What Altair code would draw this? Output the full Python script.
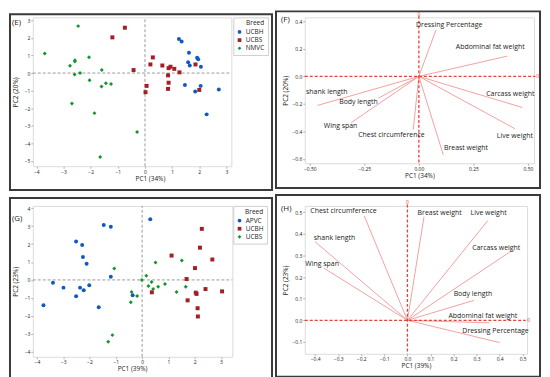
import altair as alt
import pandas as pd

FONT = "Open Sans"

# ---------------- Panel E: scores (PC1 34%, PC2 20%) ----------------
e_breeds = ["UCBH", "UCBS", "NMVC"]
e_ucbh_x = [1.25, 1.35, 1.62, 1.59, 1.65, 1.92, 1.96, 2.06, 1.47, 1.85, 2.05, 2.72, 2.27]
e_ucbh_y = [1.94, 1.79, 1.15, 0.62, 0.43, 0.87, 0.79, 0.36, -0.68, -1.05, -0.73, -0.94, -2.35]
e_ucbs_x = [-0.74, -1.2, -0.42, 0.29, 0.2, 0.64, 0.87, 0.94, 1.08, 1.27, 0.85, 0.87, 0.85, 0.06, 0.02, 1.86, 2.0]
e_ucbs_y = [2.58, 2.03, 0.17, 0.89, 0.49, 0.43, 0.28, 0.36, 0.24, 0.04, -0.13, -0.55, -0.9, -0.73, -1.09, 0.49, -0.96]
e_nmvc_x = [-2.46, -3.69, -2.58, -2.58, -2.76, -2.06, -1.59, -2.59, -2.39, -2.04, -1.6, -1.44, -1.25, -2.69, -1.86, -0.29, -1.65]
e_nmvc_y = [2.67, 1.11, 0.73, 0.66, 0.41, 0.9, 0.17, -0.08, 0.0, -0.41, -0.77, -0.58, -0.62, -1.73, -2.28, -3.35, -4.78]

# ---------------- Panel G: scores (PC1 39%, PC2 23%) ----------------
g_breeds = ["APVC", "UCBH", "UCBS"]
g_apvc_x = [0.31, -1.46, -1.19, -2.51, -2.28, -2.25, -2.11, -1.19, -3.39, -2.99, -2.36, -2.22, -2.01, -2.51, -3.75, -1.65, -0.36]
g_apvc_y = [3.39, 3.06, 2.97, 2.15, 1.95, 1.28, 0.9, 0.18, -0.16, -0.43, -0.43, -0.58, -0.3, -0.91, -1.41, -1.52, -0.86]
g_ucbh_x = [2.27, 2.2, 2.67, 1.12, 2.01, 1.69, 2.04, 2.07, 2.41, 3.04, 1.73, 2.11, 2.12, 0.37]
g_ucbh_y = [2.85, 1.8, 1.14, 1.36, 0.66, 0.05, -0.71, -0.78, -0.51, -0.64, -1.14, -1.58, -2.04, -0.69]
g_ucbs_x = [-1.06, 0.51, 1.51, -0.01, 0.16, 0.36, 0.24, 0.42, 0.61, 0.87, 1.31, 1.66, -0.4, -0.19, -0.43, -1.13, -1.29]
g_ucbs_y = [0.64, 0.97, 1.08, -0.01, 0.23, -0.12, -0.34, -0.51, -0.38, -0.23, -0.67, -0.38, -0.67, -0.9, -1.25, -3.08, -3.45]

# ---------------- Panel F: loadings (PC1 34%, PC2 20%) ----------------
f_traits = ["Dressing Percentage", "Abdominal fat weight", "Carcass weight", "Live weight",
            "Breast weight", "Chest circumference", "Wing span", "Body length", "shank length"]
f_pc1 = [0.079, 0.405, 0.474, 0.44, 0.112, -0.026, -0.31, -0.184, -0.465]
f_pc2 = [0.34, 0.147, -0.226, -0.38, -0.57, -0.387, -0.336, -0.157, -0.211]
f_lab_x = [0.139, 0.327, 0.419, 0.44, 0.216, -0.126, -0.359, -0.277, -0.422]
f_lab_y = [0.376, 0.212, -0.126, -0.436, -0.521, -0.424, -0.364, -0.184, -0.112]

# ---------------- Panel H: loadings (PC1 39%, PC2 23%) ----------------
h_traits = ["Chest circumference", "Breast weight", "Live weight", "Carcass weight", "Body length",
            "Abdominal fat weight", "Dressing Percentage", "shank length", "Wing span"]
h_pc1 = [-0.187, 0.072, 0.349, 0.457, 0.288, 0.356, 0.4, -0.4, -0.363]
h_pc2 = [0.482, 0.479, 0.462, 0.325, 0.092, -0.012, -0.103, 0.363, 0.242]
h_lab_x = [-0.277, 0.14, 0.352, 0.385, 0.284, 0.327, 0.382, -0.316, -0.37]
h_lab_y = [0.505, 0.495, 0.495, 0.335, 0.121, 0.018, -0.051, 0.381, 0.259]

BLUE, RED, GREEN = "#1159c2", "#a31f24", "#14952b"
LOAD = "#f3a0a0"
REF_RED = "#e8403a"


def frame(left, right, top, bottom):
    return alt.Chart(pd.DataFrame({"a": [0]})).mark_rect(
        fillOpacity=0, stroke="#3a3a3a", strokeWidth=2, clip=False
    ).encode(x=alt.value(left), x2=alt.value(right), y=alt.value(top), y2=alt.value(bottom))


def tag(text, x, y):
    return alt.Chart(pd.DataFrame({"a": [0]})).mark_text(
        text=text, font=FONT, fontSize=8, align="left", baseline="middle", color="#222"
    ).encode(x=alt.value(x), y=alt.value(y))


def axes(ticks, fmt, title, tx, ty, orient):
    kw = dict(values=ticks, format=fmt, title=title, grid=False, domain=False,
              tickSize=2, tickColor="#b0b0b0", labelFontSize=5, labelColor="#222",
              labelPadding=1, labelFont=FONT, labelFlush=False, labelOverlap=False,
              titleFont=FONT, titleFontSize=6.5, titleFontWeight="normal", titleColor="#222",
              titleX=tx, titleY=ty, titleBaseline="middle", titleAlign="center")
    if orient == "left":
        kw["titleAngle"] = 270
    return alt.Axis(**kw)


def scatter_panel(groups, breeds, colors, shapes, xdom, ydom, xticks, yticks, w, h,
                  xtitle, ytitle, xtx, ytx, tagtxt, tagpos, fr, leg_off):
    rows = []
    for b, (xs, ys) in zip(breeds, groups):
        for xv, yv in zip(xs, ys):
            rows.append({"PC1": xv, "PC2": yv, "Breed": b})
    df = pd.DataFrame(rows)
    xs = alt.Scale(domain=xdom, nice=False, zero=False)
    ys = alt.Scale(domain=ydom, nice=False, zero=False)
    ax = axes(xticks, "d", xtitle, xtx, 12, "bottom")
    ay = axes(yticks, "d", ytitle, ytx, h / 2, "left")
    leg = alt.Legend(title="Breed", orient="right", offset=leg_off, titleAnchor="end",
                     strokeColor="#cfcfcf", padding=3, rowPadding=1.2, symbolSize=14,
                     labelFont=FONT, labelFontSize=6.5, titleFont=FONT, titleFontSize=6.5,
                     titleFontWeight="normal", titlePadding=2, labelOffset=3, titleColor="#222",
                     labelColor="#222", symbolStrokeWidth=0)
    pts = alt.Chart(df).mark_point(filled=True, size=16, opacity=1).encode(
        x=alt.X("PC1:Q", scale=xs, axis=ax),
        y=alt.Y("PC2:Q", scale=ys, axis=ay),
        color=alt.Color("Breed:N", scale=alt.Scale(domain=breeds, range=colors), legend=leg),
        shape=alt.Shape("Breed:N", scale=alt.Scale(domain=breeds, range=shapes), legend=leg),
    )
    one = pd.DataFrame({"a": [0]})
    vref = alt.Chart(one).mark_rule(color="#9a9a9a", strokeDash=[3, 2], strokeWidth=1).encode(
        x=alt.XDatum(0, scale=xs, axis=ax), y=alt.YDatum(ydom[0], scale=ys, axis=ay),
        y2=alt.datum(ydom[1]))
    href = alt.Chart(one).mark_rule(color="#9a9a9a", strokeDash=[3, 2], strokeWidth=1).encode(
        y=alt.YDatum(0, scale=ys, axis=ay), x=alt.XDatum(xdom[0], scale=xs, axis=ax),
        x2=alt.datum(xdom[1]))
    return alt.layer(frame(*fr), vref, href, pts, tag(tagtxt, *tagpos)).properties(width=w, height=h)


def loading_panel(traits, pc1, pc2, lx, ly, xdom, ydom, xticks, yticks, xfmt, yfmt, w, h,
                  xtitle, ytitle, ytx, tagtxt, tagpos, fr, vtop, hright, zero_top, zero_right):
    df = pd.DataFrame({"trait": traits, "pc1": pc1, "pc2": pc2, "lx": lx, "ly": ly})
    xs = alt.Scale(domain=xdom, nice=False, zero=False)
    ys = alt.Scale(domain=ydom, nice=False, zero=False)
    ax = axes(xticks, xfmt, xtitle, w / 2, 12, "bottom")
    ay = axes(yticks, yfmt, ytitle, ytx, h / 2, "left")
    lines = alt.Chart(df).mark_rule(color=LOAD, strokeWidth=1).encode(
        x=alt.X("pc1:Q", scale=xs, axis=ax),
        y=alt.Y("pc2:Q", scale=ys, axis=ay),
        x2=alt.datum(0), y2=alt.datum(0))
    one = pd.DataFrame({"a": [0]})
    vref = alt.Chart(one).mark_rule(color=REF_RED, strokeDash=[3, 2], strokeWidth=1.3).encode(
        x=alt.XDatum(0, scale=xs, axis=ax), y=alt.YDatum(vtop, scale=ys, axis=ay),
        y2=alt.datum(ydom[0]))
    href = alt.Chart(one).mark_rule(color=REF_RED, strokeDash=[3, 2], strokeWidth=1.3).encode(
        y=alt.YDatum(0, scale=ys, axis=ay), x=alt.XDatum(xdom[0], scale=xs, axis=ax),
        x2=alt.datum(hright))
    z1 = alt.Chart(one).mark_text(text="0", font=FONT, fontSize=5, color=REF_RED,
                                  baseline="middle", align="center").encode(
        x=alt.XDatum(0, scale=xs, axis=ax), y=alt.YDatum(zero_top, scale=ys, axis=ay))
    z2 = alt.Chart(one).mark_text(text="0", font=FONT, fontSize=5, color=REF_RED,
                                  baseline="middle", align="center").encode(
        x=alt.XDatum(zero_right, scale=xs, axis=ax), y=alt.YDatum(0, scale=ys, axis=ay))
    labels = alt.Chart(df).mark_text(font=FONT, fontSize=7, color="#222",
                                     baseline="middle", align="center").encode(
        x=alt.X("lx:Q", scale=xs, axis=ax), y=alt.Y("ly:Q", scale=ys, axis=ay), text="trait:N")
    return alt.layer(frame(*fr), lines, vref, href, z1, z2, labels,
                     tag(tagtxt, *tagpos)).properties(width=w, height=h)


E = scatter_panel(
    [(e_ucbh_x, e_ucbh_y), (e_ucbs_x, e_ucbs_y), (e_nmvc_x, e_nmvc_y)], e_breeds,
    [BLUE, RED, GREEN], ["circle", "square", "diamond"],
    [-4.13, 3.18], [-5.3, 3.17], list(range(-4, 4)), list(range(-5, 4)), 200, 150,
    "PC1 (34%)", "PC2 (20%)", 118, -17, "(E)", (-21, 6), (-23, 241, -3, 174), 2)

F = loading_panel(
    f_traits, f_pc1, f_pc2, f_lab_x, f_lab_y, [-0.523, 0.528], [-0.631, 0.429],
    [-0.5, -0.25, 0, 0.25, 0.5], [-0.6, -0.4, -0.2, 0.0, 0.2, 0.4], ".2f", ".1f", 231, 147,
    "PC1 (34%)", "PC2 (20%)", -19, "(F)", (-24, 3), (-29, 237, -6, 172),
    0.441, 0.534, 0.453, 0.545)

G = scatter_panel(
    [(g_apvc_x, g_apvc_y), (g_ucbh_x, g_ucbh_y), (g_ucbs_x, g_ucbs_y)], g_breeds,
    [BLUE, RED, GREEN], ["circle", "square", "diamond"],
    [-4.156, 3.43], [-4.29, 4.13], list(range(-4, 4)), list(range(-4, 5)), 201, 152,
    "PC1 (39%)", "PC2 (23%)", 100, -17, "(G)", (-21, 13), (-23, 241, -8, 175), 1)

H = loading_panel(
    h_traits, h_pc1, h_pc2, h_lab_x, h_lab_y, [-0.445, 0.519], [-0.155, 0.529],
    [-0.4, -0.3, -0.2, -0.1, 0.0, 0.1, 0.2, 0.3, 0.4, 0.5], [-0.1, 0.0, 0.1, 0.2, 0.3, 0.4, 0.5],
    ".1f", ".1f", 224, 149,
    "PC1 (39%)", "PC2 (23%)", -19, "(H)", (-24, 3), (-29, 237, -11, 172),
    0.535, 0.513, 0.546, 0.526)

RES = dict(x="independent", y="independent", color="independent", shape="independent")
top = alt.hconcat(E, F, spacing=0).resolve_scale(**RES).resolve_legend(
    color="independent", shape="independent")
bottom = alt.hconcat(G, H, spacing=0).resolve_scale(**RES).resolve_legend(
    color="independent", shape="independent")
chart = alt.vconcat(top, bottom, spacing=1).resolve_scale(**RES).resolve_legend(
    color="independent", shape="independent").properties(padding=0).configure(
    font=FONT
).configure_view(stroke="#dcdcdc", strokeWidth=1)

chart.save("out.html", embed_options={"renderer": "svg", "actions": False})
